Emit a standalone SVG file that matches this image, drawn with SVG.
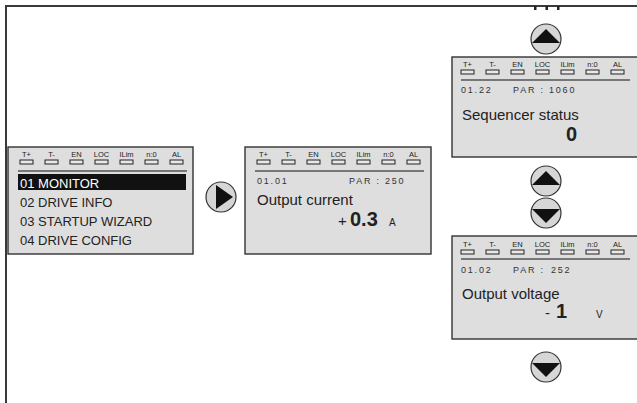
<svg xmlns="http://www.w3.org/2000/svg" width="637" height="403" viewBox="0 0 637 403">
<defs>
<style>
.frame{fill:none;stroke:#3a3a3a;stroke-width:2}
.disp{fill:#dedede;stroke:#333;stroke-width:1.4}
.led{fill:#e8e8e8;stroke:#222;stroke-width:1}
.sep{stroke:#777;stroke-width:2}
.lbl{font-family:"Liberation Sans",Arial,sans-serif;font-size:7.5px;fill:#222;text-anchor:middle}
.code{font-family:"Liberation Sans",Arial,sans-serif;font-size:9px;fill:#333;letter-spacing:1.8px}
.menu{font-family:"Liberation Sans",Arial,sans-serif;font-size:13px;fill:#222}
.name{font-family:"Liberation Sans",Arial,sans-serif;font-size:15px;fill:#222}
.val{font-family:"Liberation Sans",Arial,sans-serif;font-size:20px;font-weight:bold;fill:#222}
.unit{font-family:"Liberation Sans",Arial,sans-serif;font-size:10px;fill:#222}
.btn{fill:#d6d6d6;stroke:#333;stroke-width:1.2}
.tri{fill:#111}
</style>
</defs>
<g id="frame">
<path class="frame" d="M6,403 V6 H637"/>
<rect x="534" y="6" width="2.5" height="4" fill="#222"/>
<rect x="545.5" y="6" width="2.5" height="4" fill="#222"/>
<rect x="557" y="6" width="2.5" height="4" fill="#222"/>
</g>
<g id="menu-display">
<rect class="disp" x="8" y="147" width="185" height="107"/>
<g>
<text class="lbl" x="26.5" y="157">T+</text><text class="lbl" x="51.5" y="157">T-</text><text class="lbl" x="76.5" y="157">EN</text><text class="lbl" x="101.5" y="157">LOC</text><text class="lbl" x="126.5" y="157">ILim</text><text class="lbl" x="151.5" y="157">n:0</text><text class="lbl" x="176.5" y="157">AL</text>
<rect class="led" x="20" y="160" width="13" height="4"/><rect class="led" x="45" y="160" width="13" height="4"/><rect class="led" x="70" y="160" width="13" height="4"/><rect class="led" x="95" y="160" width="13" height="4"/><rect class="led" x="120" y="160" width="13" height="4"/><rect class="led" x="145" y="160" width="13" height="4"/><rect class="led" x="170" y="160" width="13" height="4"/>
</g>
<line class="sep" x1="18" y1="171" x2="187" y2="171"/>
<rect x="18" y="174" width="168" height="16" fill="#111"/>
<text class="menu" x="20" y="187.5" style="fill:#fff">01  MONITOR</text>
<text class="menu" x="20" y="206.5">02  DRIVE INFO</text>
<text class="menu" x="20" y="225.5">03  STARTUP WIZARD</text>
<text class="menu" x="20" y="244.5">04  DRIVE CONFIG</text>
</g>
<g id="current-display">
<rect class="disp" x="245" y="147" width="186" height="107"/>
<g>
<text class="lbl" x="263.5" y="157">T+</text><text class="lbl" x="288.5" y="157">T-</text><text class="lbl" x="313.5" y="157">EN</text><text class="lbl" x="338.5" y="157">LOC</text><text class="lbl" x="363.5" y="157">ILim</text><text class="lbl" x="388.5" y="157">n:0</text><text class="lbl" x="413.5" y="157">AL</text>
<rect class="led" x="257" y="160" width="13" height="4"/><rect class="led" x="282" y="160" width="13" height="4"/><rect class="led" x="307" y="160" width="13" height="4"/><rect class="led" x="332" y="160" width="13" height="4"/><rect class="led" x="357" y="160" width="13" height="4"/><rect class="led" x="382" y="160" width="13" height="4"/><rect class="led" x="407" y="160" width="13" height="4"/>
</g>
<line class="sep" x1="255" y1="171" x2="424" y2="171"/>
<text class="code" x="257" y="184">01.01</text>
<text class="code" x="349" y="184">PAR :</text>
<text class="code" x="385" y="184">250</text>
<text class="name" x="257" y="205">Output current</text>
<text class="name" x="338" y="226">+</text>
<text class="val" x="350" y="226">0.3</text>
<text class="unit" x="389" y="226">A</text>
</g>
<g id="sequencer-display">
<rect class="disp" x="452" y="57" width="190" height="100"/>
<g>
<text class="lbl" x="467.5" y="67">T+</text><text class="lbl" x="492.5" y="67">T-</text><text class="lbl" x="517.5" y="67">EN</text><text class="lbl" x="542.5" y="67">LOC</text><text class="lbl" x="567.5" y="67">ILim</text><text class="lbl" x="592.5" y="67">n:0</text><text class="lbl" x="617.5" y="67">AL</text>
<rect class="led" x="461" y="70" width="13" height="4"/><rect class="led" x="486" y="70" width="13" height="4"/><rect class="led" x="511" y="70" width="13" height="4"/><rect class="led" x="536" y="70" width="13" height="4"/><rect class="led" x="561" y="70" width="13" height="4"/><rect class="led" x="586" y="70" width="13" height="4"/><rect class="led" x="611" y="70" width="13" height="4"/>
</g>
<line class="sep" x1="461" y1="80" x2="630" y2="80"/>
<text class="code" x="461" y="93">01.22</text>
<text class="code" x="513" y="93">PAR :</text>
<text class="code" x="549" y="93">1060</text>
<text class="name" x="462" y="120">Sequencer status</text>
<text class="val" x="566" y="141">0</text>
</g>
<g id="voltage-display">
<rect class="disp" x="452" y="236" width="190" height="103"/>
<g>
<text class="lbl" x="467.5" y="247">T+</text><text class="lbl" x="492.5" y="247">T-</text><text class="lbl" x="517.5" y="247">EN</text><text class="lbl" x="542.5" y="247">LOC</text><text class="lbl" x="567.5" y="247">ILim</text><text class="lbl" x="592.5" y="247">n:0</text><text class="lbl" x="617.5" y="247">AL</text>
<rect class="led" x="461" y="250" width="13" height="4"/><rect class="led" x="486" y="250" width="13" height="4"/><rect class="led" x="511" y="250" width="13" height="4"/><rect class="led" x="536" y="250" width="13" height="4"/><rect class="led" x="561" y="250" width="13" height="4"/><rect class="led" x="586" y="250" width="13" height="4"/><rect class="led" x="611" y="250" width="13" height="4"/>
</g>
<line class="sep" x1="461" y1="259" x2="630" y2="259"/>
<text class="code" x="461" y="273">01.02</text>
<text class="code" x="513" y="273">PAR :</text>
<text class="code" x="551" y="273">252</text>
<text class="name" x="462" y="299">Output voltage</text>
<text class="name" x="545" y="318">-</text>
<text class="val" x="556" y="318">1</text>
<text class="unit" x="596" y="318">V</text>
</g>
<g id="connectors">
<g id="btn-right"><circle class="btn" cx="221" cy="197" r="15"/><path class="tri" d="M216,185 L216,209 L233,197 Z"/></g>
<g id="btn-up-top"><circle class="btn" cx="546" cy="39" r="15"/><path class="tri" d="M532,43 L560,43 L546,29 Z"/></g>
<g id="btn-up-mid"><circle class="btn" cx="546" cy="181" r="15"/><path class="tri" d="M532,185 L560,185 L546,171 Z"/></g>
<g id="btn-down-mid"><circle class="btn" cx="546" cy="213" r="15"/><path class="tri" d="M532,209 L560,209 L546,223 Z"/></g>
<g id="btn-down-bot"><circle class="btn" cx="546" cy="367" r="15"/><path class="tri" d="M532,363 L560,363 L546,377 Z"/></g>
</g>
</svg>
